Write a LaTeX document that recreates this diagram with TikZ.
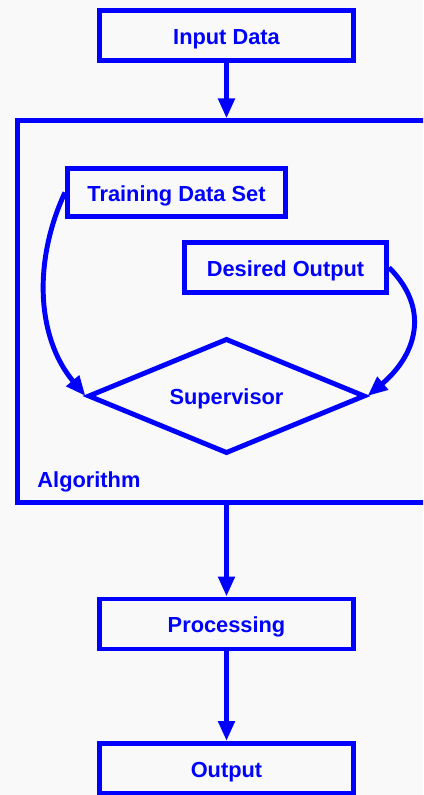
\documentclass[tikz,border=0pt]{standalone}
\usepackage{fontspec}
\setmainfont{Liberation Sans}
\usetikzlibrary{arrows.meta,shapes.geometric}
\definecolor{flowblue}{RGB}{0,0,255}
\definecolor{paper}{RGB}{249,249,250}

\begin{document}
\begin{tikzpicture}[x=0.01cm, y=0.01cm, line width=1.4pt,
    >={Triangle[length=0.2cm,width=0.16cm]},
    every node/.style={text=flowblue, font=\fontsize{6.2}{7}\selectfont\bfseries, inner sep=0pt,
        text height=6.4pt, text depth=1.3pt},
    stepbox/.style={draw=flowblue, rectangle, minimum width=2.54cm, minimum height=0.5cm},
    flow/.style={draw=flowblue, ->}]

    % Background
    \fill[paper] (0,0) rectangle (423,-795);
    \clip (0,0) rectangle (423,-795);

    % Main chain
    \node[stepbox] (input) at (226.5,-35.5) {Input Data};
    \node[draw=flowblue, minimum width=4.22cm, minimum height=3.81cm] (algo) at (229,-311.5) {};
    \node[stepbox] (proc) at (226.5,-624) {Processing};
    \node[stepbox] (output) at (226.5,-768.5) {Output};
    \draw[flow] (input) -- (input |- algo.north);
    \draw[flow] (algo.south -| proc.north) -- (proc);
    \draw[flow] (proc) -- (output);

    % Inside the algorithm
    \node[stepbox, minimum width=2.18cm, minimum height=0.48cm] (train) at (176.5,-192.5) {Training Data Set};
    \node[stepbox, minimum width=2.02cm] (desired) at (285.5,-267.5) {Desired Output};
    \node[draw=flowblue, diamond, shape aspect=2.4, minimum width=2.77cm, minimum height=1.15cm] (sup) at (226.5,-396) {Supervisor};
    \node[anchor=west] (algolabel) at (35,-479) {Algorithm};
    \draw[flow] (train.west) to[out=245, in=130, looseness=0.95] (sup.west);
    \draw[flow] (desired.east) to[out=-45, in=40, looseness=1.2] (sup.east);

\end{tikzpicture}
\end{document}
